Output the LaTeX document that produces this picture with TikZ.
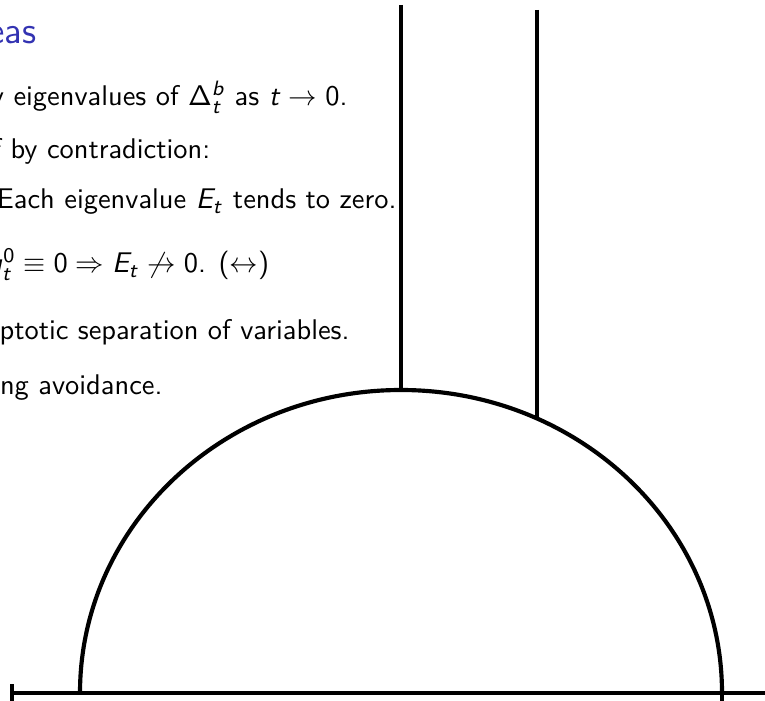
\documentclass[tikz,border=0pt]{standalone}
\usepackage{amsmath}
\usetikzlibrary{arrows.meta}

% sans serif maths as on the slide
\DeclareSymbolFont{sfops}{OT1}{cmss}{m}{n}
\DeclareSymbolFont{sfslant}{OT1}{cmss}{m}{sl}
\DeclareMathSymbol{\Delta}{\mathalpha}{sfops}{"01}
\DeclareMathSymbol{0}{\mathalpha}{sfops}{`0}
\DeclareMathSymbol{E}{\mathalpha}{sfslant}{`E}
\DeclareMathSymbol{t}{\mathalpha}{sfslant}{`t}
\DeclareMathSymbol{b}{\mathalpha}{sfslant}{`b}
\DeclareMathSymbol{u}{\mathalpha}{sfslant}{`u}

\definecolor{structblue}{rgb}{0.2,0.2,0.7}

\begin{document}
\begin{tikzpicture}[x=0.385pt, y=0.385pt,
  stroke/.style={line width=1.6pt, black},
  slidetext/.style={inner sep=0pt, font=\sffamily\fontsize{10.95}{13}\selectfont}]
\clip (0,0) rectangle (765,700);

% text of the slide
\node[slidetext, anchor=base east, text=structblue, font=\sffamily\fontsize{14.4}{17}\selectfont] (title) at (37,656) {eas};
\node[slidetext, anchor=base west] (line1) at (13,594) {\llap{y }eigenvalues of $\Delta_t^b$ as $t\to 0$.};
\node[slidetext, anchor=base west] (line2) at (10,541) {\llap{f }by contradiction:};
\node[slidetext, anchor=base east] (line3) at (397,491) {Each eigenvalue $E_t$ tends to zero.};
\node[slidetext, anchor=base west] (line4) at (23,427) {\llap{$u_t^0\mskip\thickmuskip$}$\equiv 0\Rightarrow E_t\not\to 0$. ($\leftrightarrow$)};
\node[slidetext, anchor=base east] (line5) at (350,360) {ptotic separation of variables.};
\node[slidetext, anchor=base east] (line6) at (163,305) {ng avoidance.};

% the drawing
\coordinate (base L) at (10,7);
\coordinate (base R) at (770,7);
\coordinate (dome L) at (80,7);
\coordinate (dome R) at (722,7);
\coordinate (dome top) at (401,310);
\coordinate (stem1) at (401,695);
\coordinate (stem2) at (537,690);
\coordinate (stem2 foot) at (537,281.5);

\draw[stroke, {Bar[width=7pt]}-] (base L) -- (base R);
\draw[stroke] (dome L) arc[start angle=180, end angle=0, x radius=321, y radius=303];
\draw[stroke] (dome R) -- ++(0,-8);
\draw[stroke] (stem1) -- (dome top);
\draw[stroke] (stem2) -- (stem2 foot);
\end{tikzpicture}
\end{document}
